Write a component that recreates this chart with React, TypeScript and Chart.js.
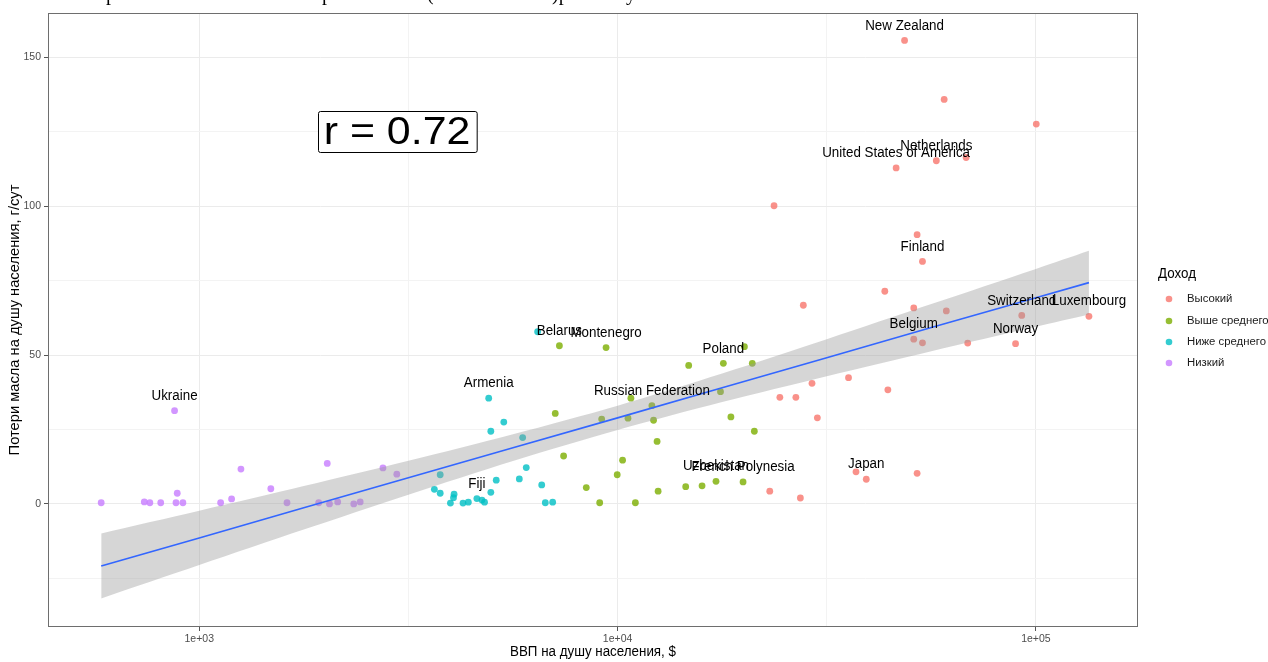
import React, { useEffect, useRef } from 'react';
import { Chart, registerables } from 'chart.js';

Chart.register(...registerables);

// ---- categories ----
const incomeLevels = ['Высокий', 'Выше среднего', 'Ниже среднего', 'Низкий'];
const incomeColors = [
  'rgba(248,118,109,0.8)',
  'rgba(124,174,0,0.8)',
  'rgba(0,191,196,0.8)',
  'rgba(199,124,255,0.8)',
];

// ---- series: GDP per capita ($) and oil losses (g/day) ----
const highGdp = [48530, 60350, 100200, 46330, 57800, 68100, 23660, 52000, 53560, 43530, 27800, 51050, 61070, 92500, 133900, 51050, 53560, 68700, 89400, 35650, 44270, 29160, 24430, 26680, 30030, 23110, 27350, 37150, 39310, 52000];
const highLoss = [155.6, 135.8, 127.5, 112.8, 115.2, 116.3, 100.1, 90.4, 81.4, 71.4, 66.7, 65.8, 64.8, 63.3, 63.0, 55.3, 54.1, 54.0, 53.8, 42.4, 38.3, 40.5, 35.8, 35.8, 28.9, 4.3, 2.0, 10.8, 8.3, 10.3];

const upperMidGdp = [7096, 7430, 8418, 9063, 9162, 10280, 9980, 10760, 10590, 11030, 12080, 12190, 12430, 12500, 14550, 15920, 17190, 17620, 14790, 17900, 20100, 20990, 18660, 21230, 19950, 7260, 9386];
const upperMidLoss = [30.4, 16.1, 5.5, 0.4, 28.5, 14.7, 9.8, 35.5, 28.8, 0.4, 33.0, 28.1, 21.0, 4.3, 5.8, 6.1, 7.6, 37.7, 46.5, 47.2, 52.8, 47.2, 29.2, 24.4, 7.4, 53.1, 52.5];

const lowerMidGdp = [4920, 5346, 4978, 5931, 3767, 3648, 3767, 4066, 4053, 3985, 4271, 4398, 4610, 4740, 4808, 4978, 5128, 5823, 6050, 6587, 6718, 6996, 6440];
const lowerMidLoss = [35.5, 27.5, 24.4, 22.3, 9.8, 4.9, 3.6, 3.3, 2.1, 0.3, 0.3, 0.6, 1.8, 1.3, 0.6, 3.9, 8.0, 8.4, 12.2, 6.4, 0.4, 0.6, 57.8];

const lowGdp = [583, 873, 739, 762, 809, 886, 880, 914, 1125, 1195, 1258, 1483, 1621, 1930, 2023, 2048, 2143, 2341, 2425, 2749, 2967];
const lowLoss = [0.4, 31.3, 0.7, 0.4, 0.4, 3.6, 0.4, 0.4, 0.4, 1.7, 11.7, 5.1, 0.4, 0.4, 13.6, 0, 0.7, 0, 0.7, 12.1, 10.0];

// ---- smooth (lm) line and confidence band ----
const fitGdp = [583, 1000, 1778, 3162, 5623, 10000, 17783, 31623, 56234, 100000, 133900];
const fitLoss = [-20.8, -11.4, -1.3, 8.8, 18.9, 28.9, 39.0, 49.1, 59.2, 69.2, 74.3];
const bandUpper = [-9.9, -2.3, 6.0, 14.5, 23.4, 33.0, 43.8, 55.3, 67.1, 78.9, 85.0];
const bandLower = [-31.7, -20.5, -8.6, 3.1, 14.4, 24.8, 34.2, 42.9, 51.3, 59.5, 63.6];

// ---- country labels ----
const labelNames = ['New Zealand', 'Netherlands', 'United States of America', 'Finland', 'Switzerland', 'Luxembourg', 'Belgium', 'Norway', 'Japan', 'Poland', 'Russian Federation', 'Belarus', 'Montenegro', 'Armenia', 'Ukraine', 'Fiji', 'Uzbekistan', 'French Polynesia'];
const labelGdp = [48530, 57800, 46330, 53560, 92500, 133900, 51050, 89400, 39310, 17900, 12080, 7260, 9386, 4920, 873, 4610, 17190, 19950];
const labelLoss = [155.6, 115.2, 112.8, 81.4, 63.3, 63.0, 55.3, 53.8, 8.3, 47.2, 33.0, 53.1, 52.5, 35.5, 31.3, 1.8, 7.6, 7.4];
const labelNudge = 5;

// ---- annotation ----
const rText = 'r = 0.72';
const rGdp = 2970;
const rLoss = 125;

// ---- axes ----
const xTickValues = [1000, 3162.2777, 10000, 31622.777, 100000];
const yTickValues = [-25, 0, 25, 50, 75, 100, 125, 150];
const xTitle = 'ВВП на душу населения, $';
const yTitle = 'Потери масла на душу населения, г/сут';
const legendTitle = 'Доход';

const SANS = '"Liberation Sans", Arial, sans-serif';

function isMajorX(v: number) {
  const l = Math.log10(v);
  return Math.abs(l - Math.round(l)) < 1e-3;
}
function isMajorY(v: number) {
  return Math.abs(v % 50) < 1e-6;
}

function drawText(
  ctx: CanvasRenderingContext2D,
  text: string,
  x: number,
  y: number,
  size: number,
  sx: number,
  color: string,
  align: CanvasTextAlign,
  rotate = 0,
  family = SANS
) {
  ctx.save();
  ctx.translate(x, y);
  if (rotate) ctx.rotate(rotate);
  ctx.scale(sx, 1);
  ctx.font = `${size}px ${family}`;
  ctx.textAlign = align;
  ctx.textBaseline = 'middle';
  ctx.fillStyle = color;
  ctx.fillText(text, 0, 0);
  ctx.restore();
}

const overlayPlugin = {
  id: 'overlay',
  afterDraw(chart: any) {
    const ctx: CanvasRenderingContext2D = chart.ctx;
    const xs = chart.scales.x;
    const ys = chart.scales.y;
    const a = chart.chartArea;

    ctx.save();
    ctx.beginPath();
    ctx.rect(a.left, a.top, a.right - a.left, a.bottom - a.top);
    ctx.clip();
    // country labels
    labelNames.forEach((name, i) => {
      drawText(ctx, name, xs.getPixelForValue(labelGdp[i]), ys.getPixelForValue(labelLoss[i] + labelNudge), 14.7, 0.91, '#000', 'center');
    });
    // r label box
    const rx = xs.getPixelForValue(rGdp);
    const ry = ys.getPixelForValue(rLoss);
    const rSize = 39;
    const sxR = 1.1;
    ctx.font = `${rSize}px ${SANS}`;
    const tw = ctx.measureText(rText).width * sxR;
    const bw = tw + 12;
    const bh = 41;
    const bx = Math.round(rx - bw / 2) + 0.5;
    const by = Math.round(ry - bh / 2) + 0.5;
    ctx.beginPath();
    const rr = 2;
    ctx.moveTo(bx + rr, by);
    ctx.lineTo(bx + bw - rr, by);
    ctx.quadraticCurveTo(bx + bw, by, bx + bw, by + rr);
    ctx.lineTo(bx + bw, by + bh - rr);
    ctx.quadraticCurveTo(bx + bw, by + bh, bx + bw - rr, by + bh);
    ctx.lineTo(bx + rr, by + bh);
    ctx.quadraticCurveTo(bx, by + bh, bx, by + bh - rr);
    ctx.lineTo(bx, by + rr);
    ctx.quadraticCurveTo(bx, by, bx + rr, by);
    ctx.closePath();
    ctx.fillStyle = '#fff';
    ctx.fill();
    ctx.strokeStyle = '#000';
    ctx.lineWidth = 1;
    ctx.stroke();
    drawText(ctx, rText, rx, ry + 1.5, rSize, sxR, '#000', 'center');
    ctx.restore();

    // panel border
    ctx.save();
    ctx.strokeStyle = '#6e6e6e';
    ctx.lineWidth = 1;
    ctx.strokeRect(a.left + 0.5, a.top + 0.5, a.right - a.left - 1, a.bottom - a.top - 1);
    ctx.restore();

    // axis titles
    drawText(ctx, xTitle, (a.left + a.right) / 2, 652, 14.7, 0.91, '#000', 'center');
    drawText(ctx, yTitle, 15, (a.top + a.bottom) / 2, 14.7, 1, '#000', 'center', -Math.PI / 2);

    // legend
    drawText(ctx, legendTitle, 1158, 274, 14.7, 0.91, '#000', 'left');
    const ly = [299, 321, 342, 363];
    incomeLevels.forEach((name, i) => {
      ctx.beginPath();
      ctx.arc(1169, ly[i], 3.3, 0, Math.PI * 2);
      ctx.fillStyle = incomeColors[i];
      ctx.fill();
      drawText(ctx, name, 1187, ly[i], 11.7, 0.97, '#1a1a1a', 'left');
    });

    // cut-off line of document text above the chart
    const serif = '"Liberation Serif", "Times New Roman", serif';
    ctx.save();
    ctx.font = `20px ${serif}`;
    ctx.fillStyle = '#000';
    ctx.textBaseline = 'alphabetic';
    ctx.textAlign = 'left';
    ctx.fillText('р', 106, 0);
    ctx.fillText('р', 322, 0);
    ctx.fillText('(', 427, 0);
    ctx.fillText(')р', 552, 0);
    ctx.fillText('у', 626, 0);
    ctx.restore();
  },
};

export default function App() {
  const canvasRef = useRef<HTMLCanvasElement | null>(null);

  useEffect(() => {
    if (!canvasRef.current) return;
    const toPts = (xs: number[], ys: number[]) => xs.map((x, i) => ({ x, y: ys[i] }));
    const groups = [
      toPts(highGdp, highLoss),
      toPts(upperMidGdp, upperMidLoss),
      toPts(lowerMidGdp, lowerMidLoss),
      toPts(lowGdp, lowLoss),
    ];

    const pointSets: any[] = groups.map((data, i) => ({
      type: 'scatter',
      label: incomeLevels[i],
      data,
      backgroundColor: incomeColors[i],
      borderWidth: 0,
      pointRadius: 3.4,
      pointHoverRadius: 3.4,
      order: 3,
    }));

    const chart = new Chart(canvasRef.current, {
      type: 'scatter',
      data: {
        datasets: [
          {
            type: 'line',
            label: 'fit',
            data: toPts(fitGdp, fitLoss),
            borderColor: '#3366FF',
            borderWidth: 1.6,
            pointRadius: 0,
            fill: false,
            tension: 0,
            order: 0,
          } as any,
          {
            type: 'line',
            label: 'upper',
            data: toPts(fitGdp, bandUpper),
            borderWidth: 0,
            borderColor: 'rgba(0,0,0,0)',
            backgroundColor: 'rgba(153,153,153,0.4)',
            pointRadius: 0,
            fill: '+1',
            tension: 0.3,
            order: 1,
          } as any,
          {
            type: 'line',
            label: 'lower',
            data: toPts(fitGdp, bandLower),
            borderWidth: 0,
            borderColor: 'rgba(0,0,0,0)',
            pointRadius: 0,
            fill: false,
            tension: 0.3,
            order: 2,
          } as any,
          ...pointSets,
        ],
      },
      options: {
        responsive: false,
        animation: false,
        devicePixelRatio: 1,
        events: [],
        layout: { padding: { top: 13, right: 130, left: 0, bottom: 0 } },
        plugins: {
          legend: { display: false },
          tooltip: { enabled: false },
          title: { display: false },
        },
        scales: {
          x: {
            type: 'logarithmic',
            min: 435,
            max: 175400,
            afterBuildTicks: (s: any) => {
              s.ticks = xTickValues.map((v) => ({ value: v }));
            },
            afterFit: (s: any) => {
              s.height = 35;
            },
            border: { display: false },
            grid: {
              color: (c: any) => (c.tick && isMajorX(c.tick.value) ? '#EBEBEB' : '#F3F3F3'),
              lineWidth: 1,
              tickLength: 4,
              tickColor: (c: any) => (c.tick && isMajorX(c.tick.value) ? '#555' : 'rgba(0,0,0,0)'),
              drawTicks: true,
            },
            ticks: {
              autoSkip: false,
              maxRotation: 0,
              padding: 2,
              color: '#4D4D4D',
              font: { family: 'Liberation Sans', size: 10.5 },
              callback: (v: any) => {
                const n = Number(v);
                return isMajorX(n) ? `1e+0${Math.round(Math.log10(n))}` : '';
              },
            },
          },
          y: {
            type: 'linear',
            min: -41.3,
            max: 164.8,
            afterBuildTicks: (s: any) => {
              s.ticks = yTickValues.map((v) => ({ value: v }));
            },
            afterFit: (s: any) => {
              s.width = 48;
            },
            border: { display: false },
            grid: {
              color: (c: any) => (c.tick && isMajorY(c.tick.value) ? '#EBEBEB' : '#F3F3F3'),
              lineWidth: 1,
              tickLength: 4,
              tickColor: (c: any) => (c.tick && isMajorY(c.tick.value) ? '#555' : 'rgba(0,0,0,0)'),
              drawTicks: true,
            },
            ticks: {
              autoSkip: false,
              padding: 3,
              color: '#4D4D4D',
              font: { family: 'Liberation Sans', size: 10.5 },
              callback: (v: any) => (isMajorY(Number(v)) ? String(v) : ''),
            },
          },
        },
      } as any,
      plugins: [overlayPlugin],
    });

    return () => chart.destroy();
  }, []);

  return (
    <div style={{ position: 'absolute', left: 0, top: 0, width: 1268, height: 662, background: '#fff', overflow: 'hidden' }}>
      <canvas ref={canvasRef} width={1268} height={662} style={{ display: 'block', width: 1268, height: 662 }} />
    </div>
  );
}
